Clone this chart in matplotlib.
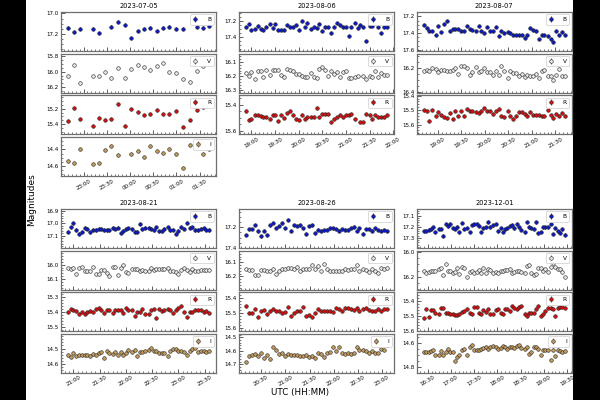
import datetime as dt

import matplotlib
matplotlib.use("Agg")
import matplotlib.pyplot as plt
import matplotlib.dates as mdates
import numpy as np
from matplotlib.patches import Rectangle
from matplotlib.ticker import AutoMinorLocator, MultipleLocator

NAN = np.nan

# ---- observation times (UTC) and magnitudes per night ----
t_0705 = ["22:40", "22:48", "22:56", "23:12", "23:20", "23:28", "23:36", "23:45", "23:53", "00:01",
          "00:10", "00:18", "00:26", "00:35", "00:43", "00:51", "01:00", "01:08", "01:17", "01:26",
          "01:34", "01:42"]
b_0705 = [17.14, 17.18, 17.15, 17.15, 17.19, NAN, 17.13, 17.08, 17.11, 17.24, 17.17, 17.15, 17.14,
          17.17, 17.14, 17.13, 17.15, 17.15, NAN, 17.13, 17.14, 17.12]
v_0705 = [16.05, 15.91, 16.15, 16.05, 16.05, 16.00, 16.08, 15.95, 16.08, 15.96, 15.91, 15.94, 15.98,
          15.93, 15.89, 16.00, 16.02, 16.09, 16.13, 15.99, 15.93, NAN]
r_0705 = [15.36, 15.19, 15.33, 15.43, 15.32, 15.35, 15.33, 15.14, 15.43, 15.21, 15.24, 15.28, 15.27,
          15.22, 15.27, 15.27, 15.23, 15.44, 15.35, 15.22, 15.18, NAN]
i_0705 = [14.54, 14.56, 14.40, 14.57, 14.56, 14.41, 14.36, 14.47, NAN, 14.45, 14.42, 14.49, 14.36,
          14.42, 14.44, 14.40, 14.46, 14.62, 14.35, 14.34, 14.45, 14.40]

t_0806 = ["18:53", "18:57", "19:00", "19:04", "19:08", "19:12", "19:15", "19:19", "19:23", "19:27",
          "19:30", "19:34", "19:38", "19:41", "19:45", "19:49", "19:53", "19:56", "20:00", "20:04",
          "20:08", "20:11", "20:15", "20:19", "20:23", "20:26", "20:30", "20:34", "20:37", "20:41",
          "20:45", "20:49", "20:52", "20:56", "21:00", "21:04", "21:07", "21:11", "21:15", "21:18",
          "21:22", "21:26", "21:30", "21:33", "21:37", "21:41", "21:45", "21:48", "21:52"]
b_0806 = [17.275, 17.233, 17.31, 17.30, 17.26, 17.30, 17.31, 17.275, 17.24, 17.29,
          17.24, 17.31, 17.31, 17.31, 17.25, 17.275, 17.275, 17.25, 17.31, 17.20,
          17.27, 17.23, 17.30, 17.275, 17.29, 17.24, 17.33, 17.27, 17.28, 17.35,
          17.27, 17.23, 17.25, 17.275, 17.275, 17.39, 17.275, 17.225, 17.29, 17.25,
          17.27, 17.45, 17.26, 17.26, 17.18, 17.28, 17.35, 17.275, 17.27]
v_0806 = [16.176, 16.198, 16.173, 16.222, 16.166, 16.166, 16.205, 16.159, 16.188, 16.154,
          16.154, 16.159, 16.188, 16.207, 16.151, 16.156, 16.161, 16.183, 16.183, 16.198,
          16.202, 16.202, 16.178, 16.202, 16.212, 16.146, 16.134, 16.154, 16.198, 16.166,
          16.183, 16.171, 16.202, 16.171, 16.166, 16.212, 16.210, 16.207, 16.198, NAN,
          16.195, 16.222, 16.200, 16.205, 16.166, 16.202, 16.178, 16.193, 16.188]
r_0806 = [15.45, 15.515, 15.51, 15.475, 15.475, 15.485, 15.49, 15.49, 15.505, 15.475,
          15.475, 15.525, 15.475, 15.50, 15.46, 15.45, 15.48, 15.505, 15.515, 15.48,
          15.505, 15.49, 15.49, 15.495, 15.425, 15.495, 15.47, 15.47, 15.47, 15.53,
          15.505, 15.49, 15.48, 15.49, 15.48, 15.48, 15.47, 15.51, NAN, 15.53,
          15.53, 15.47, 15.48, 15.51, 15.475, 15.49, 15.49, 15.49, 15.48]

t_0807 = ["18:42", "18:46", "18:49", "18:53", "18:57", "19:00", "19:04", "19:08", "19:11", "19:15",
          "19:19", "19:22", "19:26", "19:30", "19:33", "19:37", "19:41", "19:44", "19:48", "19:52",
          "19:55", "19:59", "20:03", "20:06", "20:10", "20:14", "20:18", "20:21", "20:25", "20:29",
          "20:32", "20:36", "20:40", "20:43", "20:47", "20:51", "20:54", "20:58", "21:02", "21:05",
          "21:09", "21:13", "21:16", "21:20", "21:24", "21:27", "21:31", "21:35", "21:38", "21:42"]
b_0807 = [17.30, 17.34, 17.37, 17.38, 17.42, 17.32, 17.39, 17.29, 17.26, 17.38,
          17.35, 17.35, 17.35, 17.37, 17.37, 17.31, 17.35, 17.36, 17.38, 17.32,
          17.37, 17.40, 17.33, 17.38, 17.37, 17.33, 17.43, 17.37, 17.40, 17.39,
          17.40, 17.42, 17.42, 17.42, 17.42, 17.46, 17.42, 17.34, 17.36, 17.38,
          17.47, 17.42, 17.42, 17.44, 17.47, 17.51, 17.37, 17.42, 17.39, 17.42]
v_0807 = [16.228, 16.217, 16.228, 16.203, 16.211, 16.231, 16.219, 16.219, 16.222, 16.228,
          16.219, 16.203, 16.247, 16.186, 16.186, 16.197, 16.256, 16.233, 16.189, 16.233,
          16.228, 16.203, 16.236, 16.233, 16.261, 16.225, 16.258, 16.183, 16.228, 16.283,
          16.225, 16.239, 16.239, 16.267, 16.247, 16.275, 16.261, 16.269, 16.267, 16.253,
          16.283, 16.228, 16.219, 16.264, 16.264, 16.297, 16.256, 16.206, 16.264, 16.269]
r_0807 = [15.50, 15.505, 15.577, 15.50, 15.541, 15.514, 15.532, 15.55, 15.555, 15.518,
          15.559, 15.505, 15.539, 15.505, 15.543, 15.491, 15.505, 15.507, 15.511, 15.52,
          15.505, 15.486, 15.505, 15.505, 15.527, 15.505, 15.495, 15.543, 15.55, 15.505,
          15.539, 15.559, 15.541, 15.516, 15.514, 15.527, 15.539, 15.516, 15.532, 15.532,
          15.532, 15.539, 15.543, 15.502, 15.534, 15.555, 15.527, 15.539, 15.523, 15.541]

t_0821 = ["20:54", "20:57", "21:00", "21:03", "21:07", "21:10", "21:13", "21:16", "21:19", "21:22",
          "21:26", "21:29", "21:32", "21:35", "21:38", "21:41", "21:45", "21:48", "21:51", "21:54",
          "21:57", "22:00", "22:03", "22:07", "22:10", "22:13", "22:16", "22:19", "22:22", "22:26",
          "22:29", "22:32", "22:35", "22:38", "22:41", "22:44", "22:48", "22:51", "22:54", "22:57",
          "23:00", "23:03", "23:07", "23:10", "23:13", "23:16", "23:19", "23:22", "23:26", "23:29",
          "23:32", "23:35"]
b_0821 = [17.068, 17.032, 17.00, 17.053, 17.082, 17.066, 17.037, 17.045, 17.071, 17.05,
          17.053, 17.042, 17.042, 17.053, 17.053, 17.055, 17.037, 17.042, 17.034, 17.074,
          17.058, 17.047, 17.039, 17.047, 17.068, 17.066, 17.005, 17.045, 17.037, 17.037,
          17.042, 17.055, 17.032, 17.063, 17.063, 17.045, 17.032, 17.053, 17.05, 17.084,
          17.058, 17.032, 17.045, 16.995, 17.037, 17.032, 17.053, 17.053, 17.045, 17.039,
          17.05, 17.053]
v_0821 = [16.026, 16.033, 16.023, 16.065, 16.023, 16.014, 16.042, 16.042, 16.042, 16.019,
          16.067, 16.067, 16.037, 16.037, 16.060, 16.077, 16.014, 16.014, 16.070, 16.021,
          16.002, 16.051, 16.058, 16.033, 16.028, 16.033, 16.042, 16.040, 16.044, 16.047,
          16.026, 16.037, 16.030, 16.030, 16.033, 16.028, 16.026, 16.042, 16.042, 16.051,
          16.063, 16.037, 16.026, 16.037, 16.051, 16.028, 16.042, 16.042, 16.037, 16.037,
          16.037, 16.040]
r_0821 = [15.396, 15.380, 15.382, 15.391, 15.413, 15.40, 15.409, 15.40, 15.391, 15.40,
          15.378, 15.373, 15.382, 15.402, 15.387, 15.387, 15.404, 15.387, 15.387, 15.387,
          15.404, 15.373, 15.384, 15.387, 15.425, 15.396, 15.398, 15.375, 15.409, 15.409,
          15.382, 15.375, 15.440, 15.380, 15.391, 15.382, 15.380, 15.384, 15.404, 15.384,
          15.369, 15.357, 15.40, 15.429, 15.396, 15.40, 15.382, 15.384, 15.387, 15.40,
          15.391, 15.402]
i_0821 = [14.544, 14.554, 14.527, 14.548, 14.544, 14.540, 14.538, 14.540, 14.546, 14.535,
          14.544, 14.531, 14.521, 14.558, 14.515, 14.529, 14.535, 14.523, 14.540, 14.523,
          14.540, 14.529, 14.510, 14.523, 14.510, 14.546, 14.521, 14.519, 14.513, 14.506,
          14.496, 14.513, 14.517, 14.531, 14.525, 14.527, 14.548, 14.515, 14.50, 14.502,
          14.513, 14.517, 14.521, 14.538, 14.513, 14.50, 14.496, 14.519, 14.517, 14.517,
          14.519, 14.515]

t_0826 = ["20:11", "20:15", "20:18", "20:22", "20:26", "20:30", "20:33", "20:37", "20:41", "20:45",
          "20:48", "20:52", "20:56", "20:59", "21:03", "21:07", "21:11", "21:14", "21:18", "21:22",
          "21:25", "21:29", "21:33", "21:37", "21:40", "21:44", "21:48", "21:52", "21:55", "21:59",
          "22:03", "22:06", "22:10", "22:14", "22:18", "22:21", "22:25", "22:29", "22:32", "22:36",
          "22:40", "22:44", "22:47", "22:51", "22:55", "22:59", "23:02", "23:06"]
b_0826 = [17.274, 17.219, 17.219, 17.177, 17.239, 17.287, 17.232, 17.274, 17.181, 17.158,
          17.206, 17.187, 17.161, 17.206, 17.129, 17.232, 17.177, 17.187, 17.181, 17.206,
          17.261, 17.187, 17.181, 17.258, 17.223, 17.235, 17.229, 17.223, 17.210, 17.210,
          17.219, 17.232, 17.219, 17.223, 17.223, 17.206, 17.194, 17.235, 17.210, 17.261,
          17.216, 17.216, 17.232, 17.210, 17.226, 17.235, 17.226, 17.235]
v_0826 = [16.148, 16.155, 16.157, 16.190, 16.190, 16.152, 16.152, 16.164, 16.164, 16.148,
          16.183, 16.164, 16.148, 16.150, 16.143, 16.143, 16.148, 16.136, 16.160, 16.148,
          16.150, 16.150, 16.117, 16.148, 16.129, 16.160, 16.112, 16.148, 16.164, 16.164,
          16.160, 16.160, 16.164, 16.150, 16.157, 16.148, 16.148, 16.117, 16.162, 16.150,
          16.157, 16.171, 16.145, 16.160, 16.174, 16.138, 16.148, 16.140]
r_0826 = [15.451, 15.496, 15.502, 15.473, 15.529, 15.484, 15.480, 15.507, 15.489, 15.473,
          15.484, 15.484, 15.496, 15.493, 15.462, 15.518, 15.50, 15.484, 15.484, 15.462,
          15.520, 15.511, 15.525, 15.496, 15.473, 15.484, 15.484, 15.484, 15.484, 15.493,
          15.466, 15.475, 15.484, 15.466, 15.466, 15.473, 15.480, 15.469, 15.489, 15.475,
          15.466, 15.478, 15.489, 15.484, 15.475, 15.484, 15.475, 15.473]
i_0826 = [14.680, 14.635, 14.630, 14.620, 14.640, 14.618, 14.650, 14.630, 14.658, 14.575,
          14.593, 14.625, 14.618, 14.640, 14.620, 14.630, 14.633, 14.633, 14.635, 14.638,
          14.630, 14.643, 14.635, 14.650, 14.618, 14.625, 14.645, 14.613, 14.605, 14.568,
          14.60, 14.575, 14.613, 14.625, 14.613, 14.625, 14.618, 14.568, 14.595, 14.590,
          14.598, 14.615, 14.60, 14.613, 14.618, 14.588, 14.595, 14.56]

t_1201 = ["16:25", "16:28", "16:31", "16:34", "16:37", "16:40", "16:44", "16:47", "16:50", "16:53",
          "16:56", "16:59", "17:02", "17:05", "17:08", "17:11", "17:14", "17:17", "17:21", "17:24",
          "17:27", "17:30", "17:33", "17:36", "17:39", "17:42", "17:45", "17:48", "17:51", "17:54",
          "17:58", "18:01", "18:04", "18:07", "18:10", "18:13", "18:16", "18:19", "18:22", "18:25",
          "18:28", "18:31", "18:35", "18:38", "18:41", "18:44", "18:47", "18:50", "18:53", "18:56",
          "18:59", "19:02", "19:05", "19:09", "19:12", "19:15", "19:18", "19:21", "19:24", "19:27"]
b_1201 = [17.240, 17.234, 17.225, 17.219, 17.204, 17.246, 17.216, 17.216, 17.279, 17.175,
          17.196, 17.175, 17.210, 17.216, 17.199, 17.249, 17.166, 17.216, 17.210, 17.246,
          17.184, 17.178, 17.178, 17.193, 17.246, 17.210, 17.204, 17.154, 17.199, 17.187,
          17.175, 17.240, 17.210, 17.246, 17.222, 17.210, 17.193, 17.187, 17.213, 17.175,
          17.204, 17.225, 17.249, 17.157, 17.199, 17.210, 17.219, 17.160, 17.258, 17.246,
          17.204, 17.204, 17.204, 17.175, 17.264, 17.210, 17.240, 17.252, 17.222, 17.270]
v_1201 = [16.151, 16.173, 16.159, 16.151, 16.151, 16.151, 16.140, 16.129, 16.186, 16.096,
          16.156, 16.156, 16.170, 16.159, 16.129, 16.178, 16.123, 16.129, 16.205, 16.159,
          16.151, 16.167, 16.164, 16.142, 16.173, 16.129, 16.170, 16.134, 16.145, 16.167,
          16.162, 16.170, 16.151, 16.151, 16.145, 16.142, 16.137, 16.170, 16.159, 16.156,
          16.151, 16.164, 16.170, 16.110, 16.104, 16.170, 16.186, 16.178, 16.129, 16.132,
          16.151, 16.137, 16.164, 16.123, 16.090, 16.118, 16.137, 16.140, 16.159, 16.200]
r_1201 = [15.513, 15.457, 15.508, 15.460, 15.460, 15.483, 15.485, 15.448, 15.448, 15.480,
          15.480, 15.485, 15.485, 15.494, 15.494, 15.485, 15.471, 15.467, 15.457, 15.480,
          15.490, 15.441, 15.441, 15.480, 15.490, 15.462, 15.474, 15.453, 15.485, 15.490,
          15.462, 15.457, 15.478, 15.487, 15.457, 15.453, 15.467, 15.432, 15.444, 15.457,
          15.439, 15.432, 15.490, 15.503, 15.480, 15.480, 15.480, 15.457, 15.434, 15.501,
          15.485, 15.467, 15.448, 15.448, 15.451, 15.501, 15.448, 15.439, 15.439, 15.444]
i_1201 = [14.671, 14.671, 14.671, 14.666, 14.660, 14.696, 14.696, 14.663, 14.696, 14.677,
          14.649, 14.677, 14.677, 14.751, 14.712, 14.696, 14.655, 14.649, 14.696, 14.636,
          14.619, 14.658, 14.658, 14.658, 14.652, 14.641, 14.636, 14.647, 14.636, 14.627,
          14.636, 14.647, 14.641, 14.625, 14.630, 14.652, 14.630, 14.636, 14.641, 14.622,
          14.614, 14.641, 14.649, 14.636, 14.690, 14.674, 14.636, 14.636, 14.649, 14.696,
          14.658, 14.658, 14.658, 14.740, 14.658, 14.704, 14.658, 14.663, 14.677, 14.668]

band_err = {"B": 0.012, "V": 0.006, "R": 0.006, "I": 0.006}

nights = [
    ("2023-07-05", t_0705, {"B": b_0705, "V": v_0705, "R": r_0705, "I": i_0705}),
    ("2023-08-06", t_0806, {"B": b_0806, "V": v_0806, "R": r_0806}),
    ("2023-08-07", t_0807, {"B": b_0807, "V": v_0807, "R": r_0807}),
    ("2023-08-21", t_0821, {"B": b_0821, "V": v_0821, "R": r_0821, "I": i_0821}),
    ("2023-08-26", t_0826, {"B": b_0826, "V": v_0826, "R": r_0826, "I": i_0826}),
    ("2023-12-01", t_1201, {"B": b_1201, "V": v_1201, "R": r_1201, "I": i_1201}),
]

# ---- axis setup: (faint limit, bright limit, major tick step) ----
axis_setup = {
    "2023-07-05": {"B": (17.37, 16.986, 0.2), "V": (16.27, 15.77, 0.2),
                   "R": (15.535, 15.026, 0.2), "I": (14.72, 14.25, 0.2)},
    "2023-08-06": {"B": (17.575, 17.09, 0.2), "V": (16.317, 16.04, 0.1),
                   "R": (15.625, 15.33, 0.2)},
    "2023-08-07": {"B": (17.617, 17.146, 0.2), "V": (16.405, 16.08, 0.2),
                   "R": (15.668, 15.398, 0.1)},
    "2023-08-21": {"B": (17.195, 16.887, 0.1), "V": (16.174, 15.902, 0.1),
                   "R": (15.526, 15.266, 0.1), "I": (14.656, 14.406, 0.1)},
    "2023-08-26": {"B": (17.40, 17.023, 0.2), "V": (16.295, 16.017, 0.1),
                   "R": (15.622, 15.36, 0.1), "I": (14.7625, 14.475, 0.1)},
    "2023-12-01": {"B": (17.39, 17.04, 0.1), "V": (16.307, 15.986, 0.2),
                   "R": (15.605, 15.34, 0.1), "I": (14.847, 14.526, 0.2)},
}

band_style = {
    "B": {"mfc": "#0b1bc4", "ecolor": "#0b1bc4"},
    "V": {"mfc": "#e6e6e6", "ecolor": "#555555"},
    "R": {"mfc": "#d40f0f", "ecolor": "#d40f0f"},
    "I": {"mfc": "#c49a5c", "ecolor": "#8a6a3a"},
}
SPINE = "#6e6e6e"


def to_datetimes(date, times):
    day = dt.datetime.strptime(date, "%Y-%m-%d")
    out, prev = [], None
    for s in times:
        h, m = map(int, s.split(":"))
        t = day.replace(hour=h, minute=m)
        if prev is not None and t < prev:
            day = day + dt.timedelta(days=1)
            t = day.replace(hour=h, minute=m)
        out.append(t)
        prev = t
    return out


def style_axis(ax, major):
    for sp in ax.spines.values():
        sp.set_color(SPINE)
        sp.set_linewidth(0.9)
    ax.yaxis.set_major_locator(MultipleLocator(major))
    ax.yaxis.set_minor_locator(AutoMinorLocator())
    ax.yaxis.set_major_formatter(plt.FormatStrFormatter("%.1f"))
    ax.xaxis.set_major_locator(mdates.MinuteLocator(byminute=[0, 30]))
    ax.xaxis.set_minor_locator(mdates.MinuteLocator(byminute=range(0, 60, 5)))
    ax.xaxis.set_major_formatter(mdates.DateFormatter("%H:%M"))
    ax.tick_params(which="both", direction="in", colors="#444444", labelcolor="black",
                   labelsize=4, pad=1.5, top=False, right=False)
    ax.tick_params(which="major", length=3, width=0.6)
    ax.tick_params(which="minor", length=1.5, width=0.5)


fig = plt.figure(figsize=(6, 4), dpi=100, facecolor="black")
fig.patches.append(Rectangle((26 / 600, 0), 547 / 600, 1, transform=fig.transFigure,
                             facecolor="white", edgecolor="none", zorder=-10))

outer = fig.add_gridspec(2, 3, left=0.1017, right=0.953, top=0.97, bottom=0.0675,
                         wspace=0.148, hspace=0.2)

for k, (date, times, bands) in enumerate(nights):
    inner = outer[k // 3, k % 3].subgridspec(4, 1, hspace=0.065)
    x = to_datetimes(date, times)
    names = list(bands.keys())
    first = None
    for j, band in enumerate(names):
        ax = fig.add_subplot(inner[j, 0], sharex=first)
        if first is None:
            first = ax
        st = band_style[band]
        ax.errorbar(x, bands[band], yerr=band_err[band], fmt="o", ms=2.6,
                    mfc=st["mfc"], mec="#222222", mew=0.4, ecolor=st["ecolor"],
                    elinewidth=0.6, capsize=0, label=band)
        lo, hi, major = axis_setup[date][band]
        ax.set_ylim(lo, hi)
        style_axis(ax, major)
        leg = ax.legend(loc="upper right", fontsize=4.2, handlelength=0.8,
                        handletextpad=1.6, borderpad=0.45, borderaxespad=0.4,
                        fancybox=True, framealpha=1.0)
        leg.get_frame().set_edgecolor("#cccccc")
        leg.get_frame().set_linewidth(0.5)
        if j == 0:
            ax.set_title(date, fontsize=4.8, pad=3)
        if j == len(names) - 1:
            plt.setp(ax.get_xticklabels(), rotation=30, ha="center")
        else:
            ax.tick_params(axis="x", labelbottom=False)

fig.text(0.053, 0.5, "Magnitudes", rotation=90, fontsize=6.5, ha="center", va="center")
fig.text(0.5, 0.018, "UTC (HH:MM)", fontsize=6.3, ha="center", va="center")

fig.savefig("out.png", dpi=100, facecolor="black")
